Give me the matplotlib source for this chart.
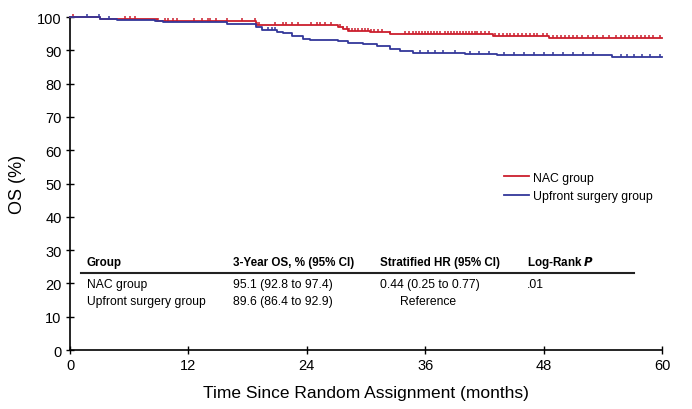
import numpy as np
import matplotlib
matplotlib.use("Agg")
import matplotlib.pyplot as plt
from matplotlib.path import Path

# ---- data ----
nac_times = [0, 3.0, 8.8, 18.8, 27.2, 27.7, 28.2, 30.4, 32.4, 42.9, 48.5, 60]
nac_surv = [100, 99.5, 98.7, 97.7, 96.9, 96.4, 95.9, 95.4, 94.9, 94.4, 93.8, 93.8]

up_times = [0, 3.0, 4.8, 8.6, 9.4, 15.9, 18.8, 19.5, 21.0, 21.6, 22.5, 23.6, 24.3,
            27.2, 28.2, 29.7, 31.1, 32.4, 33.4, 34.8, 40.0, 43.3, 54.9, 60]
up_surv = [100, 99.5, 99.2, 98.8, 98.4, 97.8, 96.9, 96.2, 95.6, 95.1, 94.2, 93.4, 93.1,
           92.7, 92.2, 91.9, 91.3, 90.4, 89.7, 89.3, 88.8, 88.5, 87.9, 87.9]

nac_censor = [0.3, 5.6, 6.1, 6.6, 8.9, 9.6, 9.9, 10.4, 10.8, 12.6, 13.4, 14.0, 14.2, 14.8,
              15.9, 17.4, 18.7, 19.0, 19.2, 20.8, 21.6, 21.9, 22.5, 23.1, 24.4, 25.0, 25.3,
              25.8, 26.5, 27.4, 27.7, 28.1, 28.3, 28.6, 28.9, 29.2, 29.6,
              29.9, 30.2, 30.5, 30.8, 31.2, 31.6, 32.4,
              34.0, 34.4, 34.8, 35.1, 35.4, 35.7, 36.0, 36.3, 36.6, 36.9, 37.2, 37.5,
              38.0, 38.3, 38.6, 38.9, 39.2, 39.5, 39.8, 40.1, 40.4, 40.7, 41.0, 41.3, 41.7, 42.1, 42.5,
              43.1, 43.5, 43.9, 44.3, 44.6, 45.0, 45.4, 45.8, 46.2, 46.6, 47.0, 47.3,
              47.9, 48.3, 49.0, 49.4, 49.8, 50.2, 50.6, 51.0, 51.4, 51.9,
              52.5, 53.0, 53.4, 54.0, 54.6, 55.3, 55.8, 56.3, 56.7, 57.1, 57.5, 57.9,
              58.3, 58.7, 59.1, 59.8]
up_censor = [1.7, 2.9, 4.0, 20.1, 20.5, 20.8, 35.5, 36.3, 37.0, 37.8, 39.0, 40.5, 41.5,
             42.5, 44.0, 45.0, 46.0, 47.0, 48.0, 49.0, 50.0, 51.0, 52.0, 53.0, 55.8,
             56.5, 57.2, 58.0, 58.8, 59.8]

group_labels = ["NAC group", "Upfront surgery group"]
table_header = ["Group", "3-Year OS, % (95% CI)", "Stratified HR (95% CI)", "Log-Rank "]
table_os = ["95.1 (92.8 to 97.4)", "89.6 (86.4 to 92.9)"]
table_hr = ["0.44 (0.25 to 0.77)", "Reference"]
table_p = [".01", ""]

x_ticks = [0, 12, 24, 36, 48, 60]
y_ticks = list(range(0, 101, 10))

RED = "#cc1f2d"
BLUE = "#33379a"

plt.rcParams['font.family'] = ['Liberation Sans', 'DejaVu Sans']
fig = plt.figure(figsize=(6.92, 4.10), dpi=100)
ax = fig.add_axes([0.1012, 0.1439, 0.8554, 0.8121])

tick_marker = Path([(0, 0), (0, 1)], [Path.MOVETO, Path.LINETO])


def step_at(times, surv, t):
    idx = np.searchsorted(times, t, side='right') - 1
    return np.asarray(surv)[idx]


for times, surv, cens, col, lab in [(nac_times, nac_surv, nac_censor, RED, group_labels[0]),
                                    (up_times, up_surv, up_censor, BLUE, group_labels[1])]:
    ax.step(times, surv, where='post', color=col, lw=1.3, label=lab, clip_on=False, zorder=3)
    ax.plot(cens, step_at(times, surv, cens), linestyle='none', marker=tick_marker,
            markersize=5, markeredgewidth=1.1, color=col, clip_on=False, zorder=3)

ax.set_xlim(0, 60)
ax.set_ylim(0, 100)
ax.set_xticks(x_ticks)
ax.set_yticks(y_ticks)
ax.spines['top'].set_visible(False)
ax.spines['right'].set_visible(False)
ax.spines['left'].set_linewidth(1.2)
ax.spines['bottom'].set_linewidth(1.2)
ax.tick_params(direction='inout', length=6, width=1.0, labelsize=10.5, pad=3)

ax.set_xlabel("Time Since Random Assignment (months)", fontsize=12.5, labelpad=9)
ax.set_ylabel("OS (%)", fontsize=13, labelpad=8)

leg = ax.legend(loc='upper left', bbox_to_anchor=(0.725, 0.55), frameon=False, fontsize=8.8,
                handlelength=2.0, handletextpad=0.4, labelspacing=0.55, borderaxespad=0)

# summary table
col_x = [1.7, 16.5, 31.4, 46.3]
y_head, y_r1, y_r2 = 26.3, 19.8, 14.6
fs = 8.7
fsh = 8.4
for i, h in enumerate(table_header):
    if i == 3:
        ax.text(col_x[i], y_head, "Log-Rank $\\boldsymbol{P}$", fontsize=fsh, fontweight='bold',
                va='center', ha='left')
    else:
        ax.text(col_x[i], y_head, h, fontsize=fsh, fontweight='bold', va='center', ha='left')
ax.plot([1.1, 57.2], [23.1, 23.1], color='#222222', lw=1.5)
for r, yy in enumerate([y_r1, y_r2]):
    ax.text(col_x[0], yy, group_labels[r], fontsize=fs, va='center', ha='left')
    ax.text(col_x[1], yy, table_os[r], fontsize=fs, va='center', ha='left')
    hx = col_x[2] if r == 0 else 33.4
    ax.text(hx, yy, table_hr[r], fontsize=fs, va='center', ha='left')
    ax.text(col_x[3], yy, table_p[r], fontsize=fs, va='center', ha='left')

fig.savefig("out.png", dpi=100)
